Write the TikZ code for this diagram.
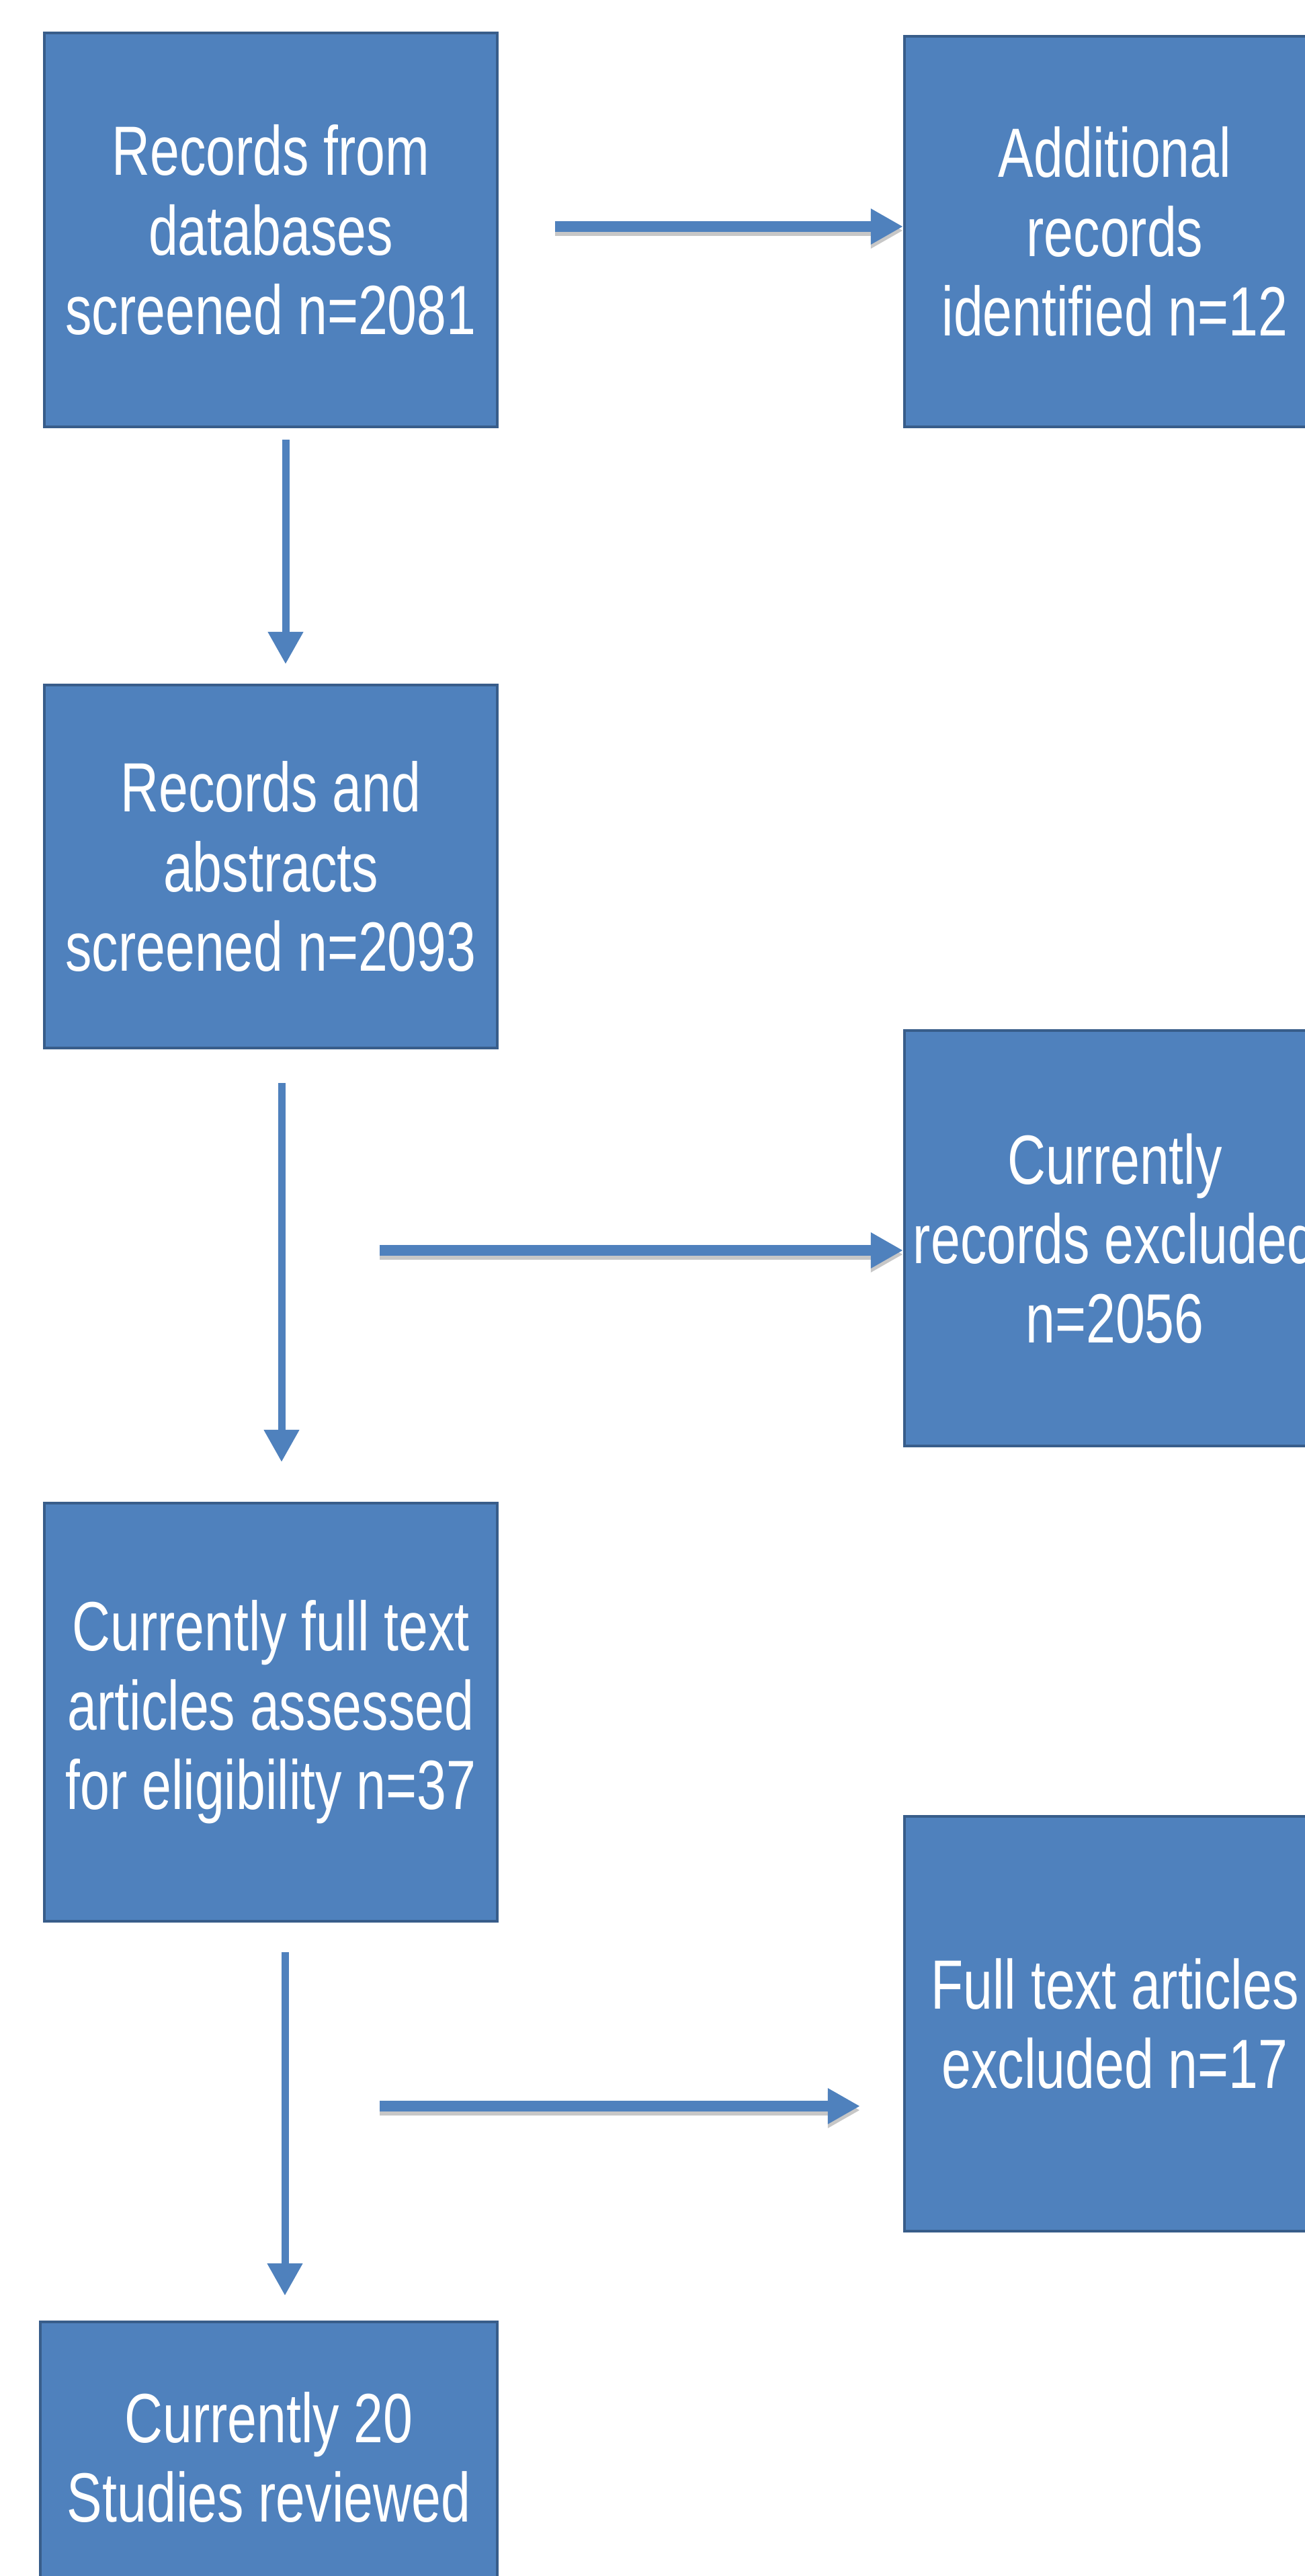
\documentclass[tikz,border=0pt]{standalone}
\usepackage{fontspec}
\setmainfont[FakeStretch=0.76]{Liberation Sans}
\usepackage{tikz}
\usetikzlibrary{positioning, arrows.meta, calc}

\definecolor{boxblue}{HTML}{4F81BD}
\definecolor{boxedge}{HTML}{385D8A}

\begin{document}
\begin{tikzpicture}[>={Triangle[length=0.48cm, width=0.5cm]},
    box/.style={draw=boxedge, line width=1.2pt, fill=boxblue, text=white,
                inner sep=0pt, align=center,
                font=\fontsize{29.5}{33.6}\selectfont},
    leftbox/.style={box, minimum width=6.74cm},
    rightbox/.style={box, minimum width=6.26cm},
    vline/.style={->, draw=boxblue, line width=0.11cm},
    hline/.style={->, draw=boxblue, line width=0.16cm,
                  preaction={draw=black!22, line width=0.16cm,
                             transform canvas={yshift=-0.06cm}}}]
    \useasboundingbox (0,0) rectangle (19.42,-38.32);
    \clip (0,0) rectangle (19.42,-38.32);
    % left column
    \node[leftbox, minimum height=5.86cm] (records) at (4.03,-3.42)
        {Records from\\databases\\screened n=2081};
    \node[leftbox, minimum height=5.40cm] (abstracts) at (4.03,-12.89)
        {Records and\\abstracts\\screened n=2093};
    \node[leftbox, minimum height=6.22cm] (fulltext) at (4.03,-25.47)
        {Currently full text\\articles assessed\\for eligibility n=37};
    \node[leftbox, minimum width=6.80cm, minimum height=4.02cm] (reviewed) at (4.00,-36.55)
        {Currently 20\\Studies reviewed};
    % right column
    \node[rightbox, minimum height=5.81cm] (additional) at (16.59,-3.445)
        {Additional\\records\\identified n=12};
    \node[rightbox, minimum height=6.18cm] (excluded) at (16.59,-18.42)
        {Currently\\records excluded\\n=2056};
    \node[rightbox, minimum height=6.17cm] (ftexcl) at (16.59,-30.105)
        {Full text articles\\excluded n=17};
    % arrow starts
    \coordinate (h1) at (8.26,-3.37);
    \coordinate (h2) at (5.65,-18.60);
    \coordinate (h3) at (5.65,-31.33);
    \draw[hline] (h1) -- (h1 -| additional.west);
    \draw[hline] (h2) -- (h2 -| excluded.west);
    \draw[hline, shorten >=0.64cm] (h3) -- (h3 -| ftexcl.west);
    \draw[vline, shorten <=0.17cm, shorten >=0.29cm]
        ([xshift=0.22cm]records.south) -- ([xshift=0.22cm]abstracts.north);
    \draw[vline, shorten <=0.50cm, shorten >=0.59cm]
        ([xshift=0.16cm]abstracts.south) -- ([xshift=0.16cm]fulltext.north);
    \draw[vline, shorten <=0.44cm, shorten >=0.37cm]
        ([xshift=0.21cm]fulltext.south) -- ([xshift=0.24cm]reviewed.north);
\end{tikzpicture}
\end{document}
